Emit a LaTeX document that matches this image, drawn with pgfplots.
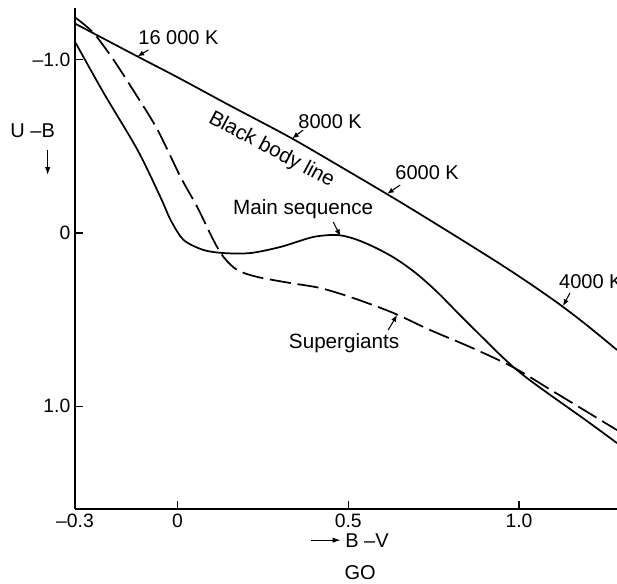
\documentclass[border=0pt]{standalone}
\usepackage{pgfplots}
\pgfplotsset{compat=1.18}
\usepackage{fontspec}
\setmainfont{Liberation Sans}
\usetikzlibrary{arrows.meta}

\begin{document}
\begin{tikzpicture}[font=\fontsize{15}{18}\selectfont]
\begin{axis}[
    name=ax,
    scale only axis,
    width=406.5pt, height=375.75pt,
    xmin=-0.3, xmax=1.287,
    ymin=-1.3, ymax=1.595,
    y dir=reverse,
    axis x line*=bottom, axis y line*=left,
    axis line style={line width=1pt,-},
    xtick={-0.3,0,0.5,1.0}, xticklabels={--0.3,0,0.5,1.0},
    ytick={-1,0,1}, yticklabels={--1.0,0,1.0},
    tick label style={font=\fontsize{14.5}{17}\selectfont},
    tick style={black, line width=0.8pt},
    major tick length=6pt,
    clip=false,
  ]

  % black body line
  \addplot[black, line width=1.3pt, smooth] coordinates {
    (-0.298,-1.208) (-0.117,-1.020) (0.000,-0.900) (0.155,-0.735)
    (0.330,-0.552) (0.500,-0.357) (0.643,-0.190) (0.800,0.000)
    (0.936,0.168) (1.030,0.290) (1.120,0.414) (1.200,0.535) (1.287,0.676)
  };

  % main sequence
  \addplot[black, line width=1.3pt, smooth] coordinates {
    (-0.298,-1.098) (-0.216,-0.809) (-0.117,-0.480) (-0.050,-0.208)
    (-0.020,-0.075) (0.018,0.040) (0.076,0.098) (0.135,0.116)
    (0.213,0.116) (0.301,0.081) (0.398,0.023) (0.468,0.012)
    (0.520,0.035) (0.580,0.085) (0.640,0.150) (0.700,0.235)
    (0.760,0.340) (0.820,0.460) (0.880,0.578) (0.940,0.695)
    (0.982,0.772) (1.030,0.848) (1.100,0.948) (1.200,1.088) (1.287,1.214)
  };

  % supergiants
  \addplot[black, line width=1.3pt, smooth, dash pattern=on 16pt off 5pt] coordinates {
    (-0.298,-1.243) (-0.246,-1.156) (-0.187,-1.000) (-0.117,-0.786)
    (-0.058,-0.595) (0.009,-0.324) (0.058,-0.150) (0.105,0.040)
    (0.135,0.139) (0.175,0.214) (0.234,0.254) (0.330,0.289)
    (0.418,0.318) (0.515,0.376) (0.632,0.462) (0.740,0.561)
    (0.857,0.659) (0.982,0.775) (1.100,0.915) (1.287,1.139)
  };

  % labels
  \node at (axis cs:0.003,-1.127) {16 000 K};
  \draw[-{Latex[length=5pt,width=4pt]}, line width=0.8pt] (axis cs:-0.085,-1.058) -- (axis cs:-0.117,-1.020);
  \node at (axis cs:0.447,-0.642) {8000 K};
  \draw[-{Latex[length=5pt,width=4pt]}, line width=0.8pt] (axis cs:0.368,-0.595) -- (axis cs:0.336,-0.546);
  \node at (axis cs:0.731,-0.347) {6000 K};
  \draw[-{Latex[length=5pt,width=4pt]}, line width=0.8pt] (axis cs:0.652,-0.277) -- (axis cs:0.614,-0.226);
  \node[anchor=west, inner sep=0pt] at (axis cs:1.117,0.283) {4000 K};
  \draw[-{Latex[length=5pt,width=4pt]}, line width=0.8pt] (axis cs:1.149,0.347) -- (axis cs:1.129,0.422);
  \node[rotate=-28, font=\fontsize{15.5}{18}\selectfont] at (axis cs:0.275,-0.480) {Black body line};
  \node[font=\fontsize{15.5}{18}\selectfont] at (axis cs:0.368,-0.139) {Main sequence};
  \draw[-{Latex[length=5pt,width=4pt]}, line width=0.8pt] (axis cs:0.456,-0.064) -- (axis cs:0.477,0.018);
  \node[font=\fontsize{15.5}{18}\selectfont] at (axis cs:0.488,0.636) {Supergiants};
  \draw[-{Latex[length=5pt,width=4pt]}, line width=0.8pt] (axis cs:0.617,0.561) -- (axis cs:0.643,0.474);

  % axis names
  \node at (axis cs:-0.424,-0.590) {U --B};
  \draw[-{Latex[length=6pt,width=4pt]}, line width=0.8pt] (axis cs:-0.380,-0.480) -- (axis cs:-0.380,-0.335);
  \node at (axis cs:0.555,1.775) {B --V};
  \draw[-{Latex[length=6pt,width=4pt]}, line width=0.8pt] (axis cs:0.392,1.775) -- (axis cs:0.478,1.775);
  \node at (axis cs:0.535,1.96) {GO};
\end{axis}
\pgfresetboundingbox
\path[use as bounding box] ([xshift=-56.25pt,yshift=-55.5pt]ax.south west) rectangle ([yshift=6pt]ax.north east);
\end{tikzpicture}
\end{document}
